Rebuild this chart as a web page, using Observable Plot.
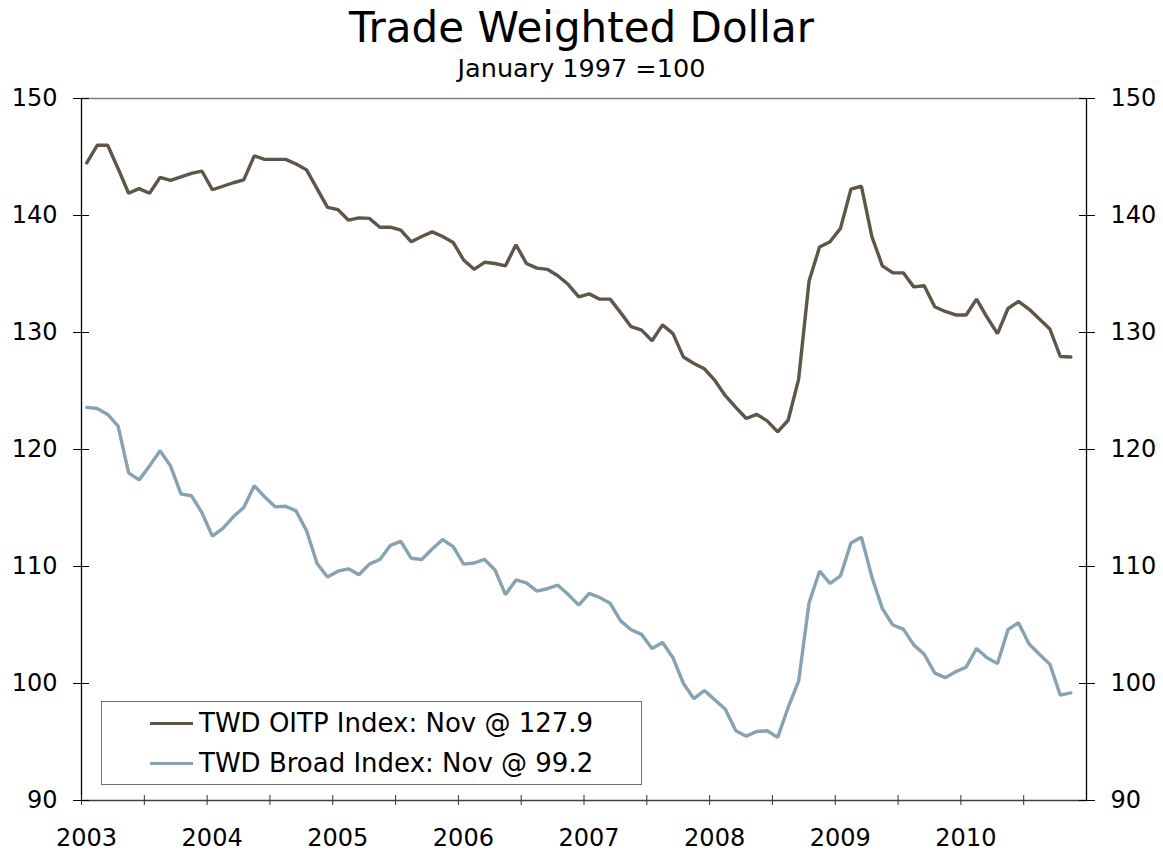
<!DOCTYPE html>
<html>
<head>
<meta charset="utf-8">
<script src="https://cdn.jsdelivr.net/npm/d3@7"></script>
<script src="https://cdn.jsdelivr.net/npm/@observablehq/plot@0.6"></script>
<style>
  body { margin: 0; background: #fff; font-family: "DejaVu Sans", sans-serif; color: #000; }
  #wrap { position: relative; width: 1163px; height: 857px; }
  #head { position: relative; height: 60px; z-index: 2; }
  #title { position: absolute; top: 3px; left: 0; width: 100%; text-align: center; font-size: 42px; line-height: 50px; }
  #sub { position: absolute; top: 54px; left: 0; width: 100%; text-align: center; font-size: 25.5px; line-height: 28px; }
  #chart { position: relative; z-index: 1; }
  #legend { position: absolute; left: 101px; top: 701px; width: 539px; height: 82px; border: 1px solid #707070; background: #fff; z-index: 3; }
  .row { position: absolute; left: 48px; height: 30px; display: flex; align-items: center; font-size: 26px; white-space: nowrap; }
  .sw { width: 43px; height: 0; border-top: 3px solid; margin-right: 6px; }
</style>
</head>
<body>
<div id="wrap">
  <div id="head">
    <div id="title">Trade Weighted Dollar</div>
    <div id="sub">January 1997 =100</div>
  </div>
  <div id="chart"></div>
  <div id="legend"></div>
</div>
<script>
// ---- data (monthly, Jan 2003 – Nov 2010) ----
const startYear = 2003;
const yearLabels = [2003, 2004, 2005, 2006, 2007, 2008, 2009, 2010];
const seriesNames = ["TWD OITP Index", "TWD Broad Index"];
const legendLabels = ["TWD OITP Index: Nov @ 127.9", "TWD Broad Index: Nov @ 99.2"];
const seriesColors = ["#5f5548", "#87a2b3"];
const yTicks = [90, 100, 110, 120, 130, 140, 150];

const oitp = [
  144.5, 146.0, 146.0, 144.0, 141.9, 142.3, 141.9, 143.25, 143.0, 143.3, 143.6, 143.8,
  142.2, 142.5, 142.8, 143.05, 145.1, 144.8, 144.8, 144.8, 144.4, 143.9, 142.3, 140.7,
  140.5, 139.6, 139.8, 139.75, 139.0, 139.0, 138.75, 137.75, 138.2, 138.6, 138.2, 137.7,
  136.2, 135.4, 136.0, 135.9, 135.7, 137.5, 135.9, 135.5, 135.4, 134.85, 134.1, 133.05,
  133.3, 132.85, 132.85, 131.7, 130.5, 130.2, 129.3, 130.65, 129.9, 127.9, 127.35, 126.9,
  125.9, 124.6, 123.6, 122.65, 123.0, 122.45, 121.5, 122.5, 126.0, 134.4, 137.3, 137.75,
  138.9, 142.25, 142.5, 138.2, 135.7, 135.1, 135.1, 133.9, 134.0, 132.2, 131.8, 131.5,
  131.5, 132.85, 131.3, 129.9, 132.05, 132.65, 132.0, 131.15, 130.3, 127.95, 127.9
];
const broad = [
  123.6, 123.5, 123.0, 122.0, 118.0, 117.4, 118.6, 119.9, 118.6, 116.2, 116.05, 114.6,
  112.6, 113.25, 114.25, 115.05, 116.9, 115.95, 115.1, 115.15, 114.75, 113.05, 110.25, 109.1,
  109.6, 109.8, 109.3, 110.2, 110.6, 111.8, 112.15, 110.7, 110.6, 111.5, 112.3, 111.7,
  110.2, 110.3, 110.6, 109.7, 107.6, 108.85, 108.6, 107.9, 108.1, 108.4, 107.6, 106.7,
  107.7, 107.35, 106.85, 105.35, 104.6, 104.2, 103.0, 103.5, 102.2, 100.0, 98.7, 99.4,
  98.6, 97.8, 95.96, 95.5, 95.9, 95.96, 95.4, 97.95, 100.2, 106.9, 109.6, 108.55,
  109.2, 112.0, 112.5, 109.1, 106.4, 105.0, 104.65, 103.3, 102.5, 100.9, 100.5, 101.0,
  101.4, 103.0, 102.2, 101.7, 104.6, 105.2, 103.4, 102.5, 101.65, 99.0, 99.2
];

// ---- build table ----
const rows = [];
[oitp, broad].forEach((vals, k) => {
  vals.forEach((v, i) => rows.push({ t: startYear + (i + 0.5) / 12, v, s: seriesNames[k] }));
});
const xEnd = yearLabels[yearLabels.length - 1] + 1;
const xTicks = d3.range(yearLabels[0], xEnd, 0.5);

const chart = Plot.plot({
  width: 1163,
  height: 797,
  marginTop: 38,
  marginBottom: 57,
  marginLeft: 81,
  marginRight: 77,
  style: { fontFamily: "DejaVu Sans, sans-serif", fontSize: "24px", color: "#000", background: "transparent" },
  x: { domain: [yearLabels[0], xEnd] },
  y: { domain: [yTicks[0], yTicks[yTicks.length - 1]] },
  color: { domain: seriesNames, range: seriesColors },
  marks: [
    Plot.ruleY([yTicks[yTicks.length - 1]], { stroke: "#808080", strokeWidth: 1.5 }),
    Plot.lineY(rows, { x: "t", y: "v", stroke: "s", strokeWidth: 3.4, strokeLinejoin: "miter" }),
    Plot.ruleX([yearLabels[0]], { stroke: "#000", strokeWidth: 1.3 }),
    Plot.ruleX([xEnd], { stroke: "#000", strokeWidth: 1.3 }),
    Plot.ruleY([yTicks[0]], { stroke: "#404040", strokeWidth: 1.5 }),
    Plot.axisY({ anchor: "left", ticks: yTicks, tickSize: 16, insetLeft: 8, tickPadding: 16, label: null, stroke: "#000" }),
    Plot.axisY({ anchor: "right", ticks: yTicks, tickSize: 16, insetRight: 8, tickPadding: 16, label: null, stroke: "#000" }),
    Plot.axisX({ anchor: "bottom", ticks: xTicks, tickSize: 10, insetBottom: 5, tickPadding: 23, label: null, stroke: "#333",
      tickFormat: () => "" }),
    Plot.axisX({ anchor: "bottom", ticks: yearLabels, tickSize: 10, insetBottom: 5, tickPadding: 23, dx: 5, label: null,
      tickFormat: d => String(d), strokeOpacity: 0 })
  ]
});
document.getElementById("chart").appendChild(chart);

// ---- legend ----
const legend = document.getElementById("legend");
legendLabels.forEach((lab, k) => {
  const row = document.createElement("div");
  row.className = "row";
  row.style.top = (6 + k * 40) + "px";
  const sw = document.createElement("div");
  sw.className = "sw";
  sw.style.borderTopColor = seriesColors[k];
  const tx = document.createElement("span");
  tx.textContent = lab;
  row.appendChild(sw);
  row.appendChild(tx);
  legend.appendChild(row);
});
</script>
</body>
</html>
